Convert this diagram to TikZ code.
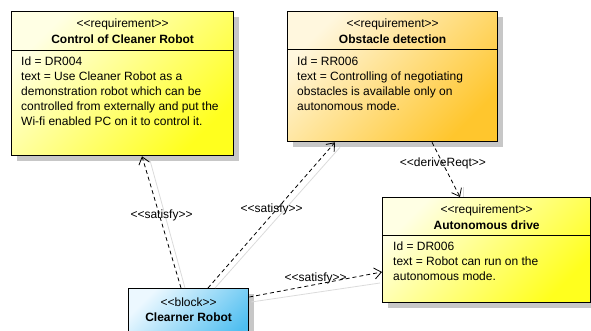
\documentclass[tikz,border=0pt]{standalone}
\usepackage{fontspec}
\setmainfont{Liberation Sans}
\usetikzlibrary{arrows.meta,calc,shadows}

\definecolor{reqlite}{RGB}{255,255,228}
\definecolor{reqdeep}{RGB}{255,255,30}
\definecolor{obslite}{RGB}{255,247,222}
\definecolor{obsdeep}{RGB}{255,198,45}
\definecolor{blklite}{RGB}{236,248,255}
\definecolor{blkdeep}{RGB}{78,190,240}

\begin{document}
\begin{tikzpicture}[
        x=1pt, y=-1pt,
        every node/.style={font=\fontsize{12}{15}\selectfont, inner sep=0pt},
        box/.style={draw, line width=1.3pt, anchor=north west,
            drop shadow={shadow xshift=5pt, shadow yshift=-5pt, fill=black!22, opacity=1}},
        yellowreq/.style={top color=reqlite, bottom color=reqdeep, shading angle=45},
        orangereq/.style={top color=obslite, bottom color=obsdeep, shading angle=45},
        bluereq/.style={top color=blklite, bottom color=blkdeep, shading angle=45},
        title/.style={font=\fontsize{12}{15}\selectfont\bfseries},
        body/.style={anchor=north west, align=left},
        divider/.style={draw, line width=0.8pt},
        link/.style={draw, line width=0.8pt, dash pattern=on 4pt off 3pt,
            -{Straight Barb[length=7pt,width=11pt]}},
        linkshadow/.style={draw=black!14, line width=0.8pt},
        lbl/.style={font=\fontsize{12}{15}\selectfont},
    ]
    \useasboundingbox (0,0) rectangle (591,331);

    % requirement boxes
    \node[box, yellowreq, minimum width=222pt, minimum height=144pt] (ctrl) at (11,11) {};
    \node[box, orangereq, minimum width=210pt, minimum height=130pt] (obst) at (287,11) {};
    \node[box, yellowreq, minimum width=208pt, minimum height=105pt] (auto) at (382,197) {};
    \node[box, bluereq, minimum width=120pt, minimum height=60pt] (robot) at (128,288) {};

    \draw[divider] ($(ctrl.north west)+(0,39)$) -- ($(ctrl.north east)+(0,39)$);
    \draw[divider] ($(obst.north west)+(0,38)$) -- ($(obst.north east)+(0,38)$);
    \draw[divider] ($(auto.north west)+(0,38)$) -- ($(auto.north east)+(0,38)$);

    % headers
    \node (ctrlst) at ($(ctrl.north)+(0,13)$) {{<}{<}requirement{>}{>}};
    \node[title] (ctrlname) at ($(ctrl.north)+(0,28)$) {Control of Cleaner Robot};
    \node (obstst) at ($(obst.north)+(0,13)$) {{<}{<}requirement{>}{>}};
    \node[title] (obstname) at ($(obst.north)+(0,28)$) {Obstacle detection};
    \node (autost) at ($(auto.north)+(0,13)$) {{<}{<}requirement{>}{>}};
    \node[title] (autoname) at ($(auto.north)+(0,28)$) {Autonomous drive};
    \node (robotst) at ($(robot.north)+(0,14)$) {{<}{<}block{>}{>}};
    \node[title] (robotname) at ($(robot.north)+(0,29)$) {Clearner Robot};

    % properties
    \node[body] (ctrlbody) at ($(ctrl.north west)+(10,46)$) {Id = DR004\\
        text = Use Cleaner Robot as a\\
        demonstration robot which can be\\
        controlled from externally and put the\\
        Wi-fi enabled PC on it to control it.};
    \node[body] (obstbody) at ($(obst.north west)+(10,46)$) {Id = RR006\\
        text = Controlling of negotiating\\
        obstacles is available only on\\
        autonomous mode.};
    \node[body] (autobody) at ($(auto.north west)+(11,45)$) {Id = DR006\\
        text = Robot can run on the\\
        autonomous mode.};

    % connector shadows
    \draw[linkshadow] ($(robot.north west)+(57,0)$) -- ($(ctrl.south west)+(139,4)$);
    \draw[linkshadow] ($(robot.north west)+(87,0)$) -- ($(obst.south west)+(53,5)$);
    \draw[linkshadow] ($(robot.north east)+(2,14)$) -- ($(auto.north west)+(-2,86)$);
    \draw[linkshadow] ($(auto.north west)+(81,-10)$) -- ($(auto.north west)+(81,0)$);

    % connectors
    \draw[link] ($(robot.north west)+(53,0)$) -- node[lbl, pos=0.55, xshift=2pt] (sat1) {{<}{<}satisfy{>}{>}} ($(ctrl.south west)+(131,0)$);
    \draw[link] ($(robot.north west)+(80,0)$) -- node[lbl, pos=0.54, xshift=-5pt] (sat2) {{<}{<}satisfy{>}{>}} ($(obst.south west)+(48,0)$);
    \draw[link] ($(robot.north east)+(0,9)$) -- node[lbl, pos=0.5, yshift=6pt] (sat3) {{<}{<}satisfy{>}{>}} ($(auto.north west)+(0,75)$);
    \draw[link] ($(obst.south west)+(145,0)$) -- node[lbl, pos=0.39] (derive) {{<}{<}deriveReqt{>}{>}} ($(auto.north west)+(78,0)$);
\end{tikzpicture}
\end{document}
